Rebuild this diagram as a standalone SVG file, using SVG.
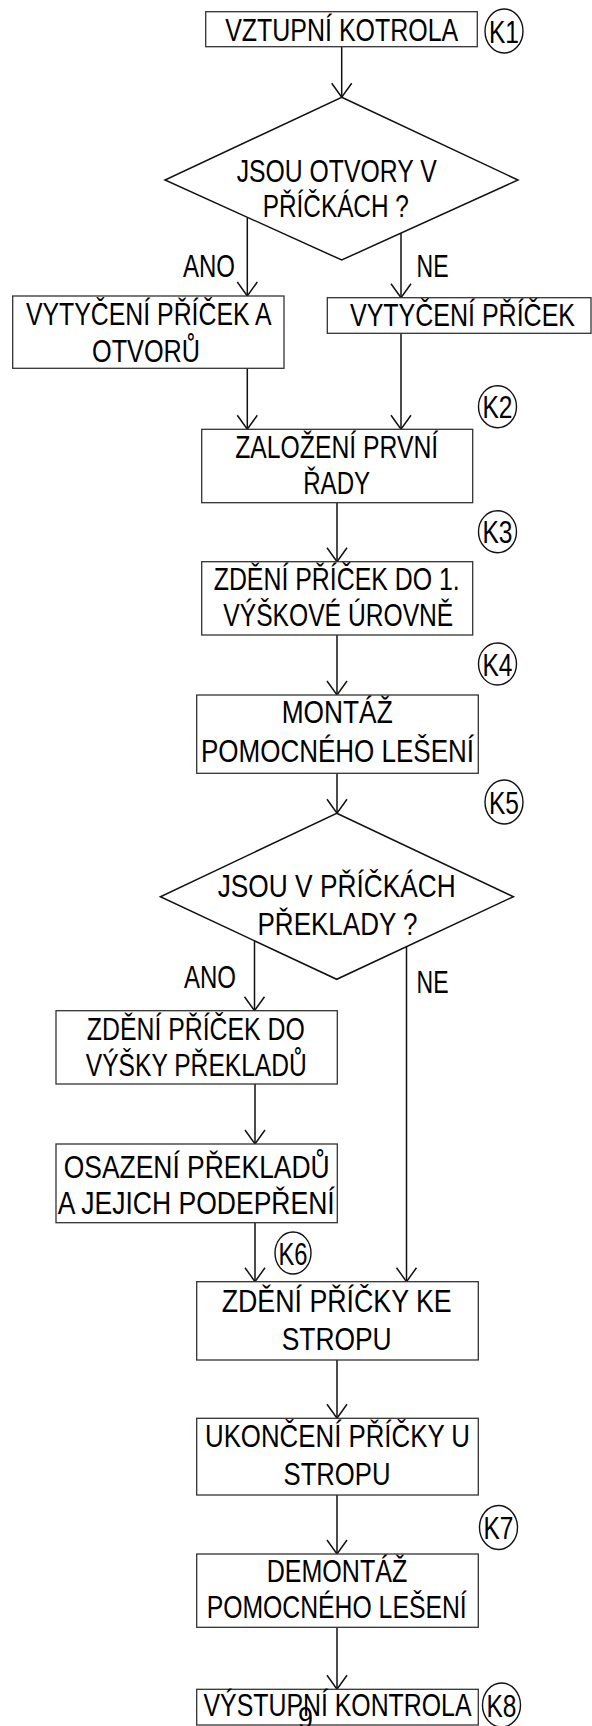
<svg xmlns="http://www.w3.org/2000/svg" width="592" height="1726" viewBox="0 0 592 1726">
<style>
  .box { fill: #fff; stroke: #333; stroke-width: 1.3; }
  .dia { fill: #fff; stroke: #111; stroke-width: 1.5; }
  .k { fill: #fff; stroke: #111; stroke-width: 1.4; }
  .t { font-family: "Liberation Sans", Arial, sans-serif; font-size: 31px; fill: #000; text-anchor: middle; }
  .kt { font-family: "Liberation Sans", Arial, sans-serif; font-size: 32px; fill: #000; text-anchor: middle; }
  .c { fill: none; stroke: #111; stroke-width: 1.5; marker-end: url(#arr); }
</style>
<defs>
  <marker id="arr" markerUnits="userSpaceOnUse" orient="auto" viewBox="-16 -12 18 24" markerWidth="18" markerHeight="24" refX="0" refY="0">
    <path d="M-14,-10 L0,0 L-14,10" fill="none" stroke="#111" stroke-width="1.5"/>
  </marker>
</defs>
<rect width="592" height="1726" fill="#fff"/>

<g id="connectors">
  <line class="c" x1="341.7" y1="46.7" x2="341.7" y2="97.3"/>
  <line class="c" x1="247.3" y1="218" x2="247.3" y2="296"/>
  <line class="c" x1="401" y1="233" x2="401" y2="297.7"/>
  <line class="c" x1="247.3" y1="368.3" x2="247.3" y2="429.3"/>
  <line class="c" x1="401" y1="333.3" x2="401" y2="429.3"/>
  <line class="c" x1="337" y1="502.7" x2="337" y2="561.7"/>
  <line class="c" x1="337" y1="635" x2="337" y2="695"/>
  <line class="c" x1="337" y1="773.3" x2="337" y2="813.3"/>
  <line class="c" x1="254.5" y1="941" x2="254.5" y2="1010.7"/>
  <line class="c" x1="406.5" y1="947" x2="406.5" y2="1281.7"/>
  <line class="c" x1="255" y1="1084" x2="255" y2="1144"/>
  <line class="c" x1="255" y1="1222.7" x2="255" y2="1281.7"/>
  <line class="c" x1="337" y1="1360" x2="337" y2="1418.3"/>
  <line class="c" x1="337" y1="1495" x2="337" y2="1554"/>
  <line class="c" x1="337" y1="1627.3" x2="337" y2="1689.3"/>
</g>

<g id="labels">
  <text class="t" x="209" y="276.7" textLength="52" lengthAdjust="spacingAndGlyphs">ANO</text>
  <text class="t" x="432.5" y="276.7" textLength="32" lengthAdjust="spacingAndGlyphs">NE</text>
  <text class="t" x="210" y="988.3" textLength="52" lengthAdjust="spacingAndGlyphs">ANO</text>
  <text class="t" x="432.5" y="993.3" textLength="32" lengthAdjust="spacingAndGlyphs">NE</text>
</g>

<g id="n1">
  <rect class="box" x="205.7" y="11.7" width="271.6" height="35"/>
  <text class="t" x="341.7" y="40.5" textLength="233" lengthAdjust="spacingAndGlyphs">VZTUPNÍ KOTROLA</text>
</g>
<g id="k1">
  <ellipse class="k" cx="504" cy="31" rx="19" ry="22"/>
  <text class="kt" x="504" y="42.5" textLength="30" lengthAdjust="spacingAndGlyphs">K1</text>
</g>

<g id="d1">
  <polygon class="dia" points="341.7,97.3 518,180 341.7,260 165,180"/>
  <text class="t" x="336.7" y="181.7" textLength="200" lengthAdjust="spacingAndGlyphs">JSOU OTVORY V</text>
  <text class="t" x="335.8" y="216.7" textLength="146" lengthAdjust="spacingAndGlyphs">PŘÍČKÁCH ?</text>
</g>

<g id="n2">
  <rect class="box" x="12.7" y="296" width="271.3" height="72.3"/>
  <text class="t" x="148.8" y="325" textLength="245.7" lengthAdjust="spacingAndGlyphs">VYTYČENÍ PŘÍČEK A</text>
  <text class="t" x="146" y="361.7" textLength="108" lengthAdjust="spacingAndGlyphs">OTVORŮ</text>
</g>

<g id="n3">
  <rect class="box" x="327.3" y="297.7" width="263.7" height="35.6"/>
  <text class="t" x="462.5" y="325.5" textLength="225" lengthAdjust="spacingAndGlyphs">VYTYČENÍ PŘÍČEK</text>
</g>

<g id="k2">
  <ellipse class="k" cx="497.5" cy="406.7" rx="19" ry="21"/>
  <text class="kt" x="497.5" y="418.2" textLength="30" lengthAdjust="spacingAndGlyphs">K2</text>
</g>

<g id="n4">
  <rect class="box" x="201.7" y="429.3" width="271" height="73.4"/>
  <text class="t" x="336.7" y="458.3" textLength="203" lengthAdjust="spacingAndGlyphs">ZALOŽENÍ PRVNÍ</text>
  <text class="t" x="336.7" y="494" textLength="67" lengthAdjust="spacingAndGlyphs">ŘADY</text>
</g>

<g id="k3">
  <ellipse class="k" cx="497.5" cy="531.7" rx="19" ry="21"/>
  <text class="kt" x="497.5" y="543.2" textLength="30" lengthAdjust="spacingAndGlyphs">K3</text>
</g>

<g id="n5">
  <rect class="box" x="201.7" y="561.7" width="271" height="73.3"/>
  <text class="t" x="336.7" y="590" textLength="246" lengthAdjust="spacingAndGlyphs">ZDĚNÍ PŘÍČEK DO 1.</text>
  <text class="t" x="338.3" y="625.5" textLength="230" lengthAdjust="spacingAndGlyphs">VÝŠKOVÉ ÚROVNĚ</text>
</g>

<g id="k4">
  <ellipse class="k" cx="497.5" cy="664" rx="19" ry="21"/>
  <text class="kt" x="497.5" y="675.5" textLength="30" lengthAdjust="spacingAndGlyphs">K4</text>
</g>

<g id="n6">
  <rect class="box" x="196.7" y="695" width="281.6" height="78.3"/>
  <text class="t" x="337.2" y="723.3" textLength="111" lengthAdjust="spacingAndGlyphs">MONTÁŽ</text>
  <text class="t" x="337.5" y="762" textLength="273" lengthAdjust="spacingAndGlyphs">POMOCNÉHO LEŠENÍ</text>
</g>

<g id="k5">
  <ellipse class="k" cx="504" cy="802" rx="19" ry="22"/>
  <text class="kt" x="504" y="813.5" textLength="30" lengthAdjust="spacingAndGlyphs">K5</text>
</g>

<g id="d2">
  <polygon class="dia" points="336.7,813.3 513.4,896.7 336.7,979.3 160.4,896.7"/>
  <text class="t" x="336.7" y="896.7" textLength="238" lengthAdjust="spacingAndGlyphs">JSOU V PŘÍČKÁCH</text>
  <text class="t" x="337.5" y="935" textLength="160" lengthAdjust="spacingAndGlyphs">PŘEKLADY ?</text>
</g>

<g id="n7">
  <rect class="box" x="56" y="1010.7" width="281.3" height="73.3"/>
  <text class="t" x="195.8" y="1040" textLength="218" lengthAdjust="spacingAndGlyphs">ZDĚNÍ PŘÍČEK DO</text>
  <text class="t" x="196.3" y="1075.5" textLength="221" lengthAdjust="spacingAndGlyphs">VÝŠKY PŘEKLADŮ</text>
</g>

<g id="n8">
  <rect class="box" x="56" y="1144" width="281.3" height="78.7"/>
  <text class="t" x="196.7" y="1178.3" textLength="266" lengthAdjust="spacingAndGlyphs">OSAZENÍ PŘEKLADŮ</text>
  <text class="t" x="196.2" y="1214" textLength="277" lengthAdjust="spacingAndGlyphs">A JEJICH PODEPŘENÍ</text>
</g>

<g id="k6">
  <ellipse class="k" cx="293" cy="1253" rx="18" ry="21"/>
  <text class="kt" x="293" y="1264.5" textLength="29" lengthAdjust="spacingAndGlyphs">K6</text>
</g>

<g id="n9">
  <rect class="box" x="196.7" y="1281.7" width="281.6" height="78.3"/>
  <text class="t" x="336.7" y="1311.7" textLength="230" lengthAdjust="spacingAndGlyphs">ZDĚNÍ PŘÍČKY KE</text>
  <text class="t" x="336.7" y="1350" textLength="110" lengthAdjust="spacingAndGlyphs">STROPU</text>
</g>

<g id="n10">
  <rect class="box" x="196.7" y="1418.3" width="281.6" height="76.7"/>
  <text class="t" x="337.5" y="1446.7" textLength="265" lengthAdjust="spacingAndGlyphs">UKONČENÍ PŘÍČKY U</text>
  <text class="t" x="337" y="1485" textLength="107" lengthAdjust="spacingAndGlyphs">STROPU</text>
</g>

<g id="k7">
  <ellipse class="k" cx="498.5" cy="1527.5" rx="19" ry="22"/>
  <text class="kt" x="498.5" y="1539" textLength="30" lengthAdjust="spacingAndGlyphs">K7</text>
</g>

<g id="n11">
  <rect class="box" x="196.7" y="1554" width="281.6" height="73.3"/>
  <text class="t" x="337" y="1581.7" textLength="140.6" lengthAdjust="spacingAndGlyphs">DEMONTÁŽ</text>
  <text class="t" x="336.7" y="1618.3" textLength="260" lengthAdjust="spacingAndGlyphs">POMOCNÉHO LEŠENÍ</text>
</g>

<g id="n12">
  <rect class="box" x="196.7" y="1689.3" width="281.6" height="35.7"/>
  <text class="t" x="337.5" y="1715.5" textLength="268" lengthAdjust="spacingAndGlyphs">VÝSTUPNÍ KONTROLA</text>
</g>

<g id="k8">
  <ellipse class="k" cx="501.5" cy="1705" rx="19" ry="22"/>
  <text class="kt" x="501.5" y="1716.5" textLength="30" lengthAdjust="spacingAndGlyphs">K8</text>
</g>

<g id="page">
  <text class="t" x="305.5" y="1729" textLength="15" lengthAdjust="spacingAndGlyphs">9</text>
</g>
</svg>
